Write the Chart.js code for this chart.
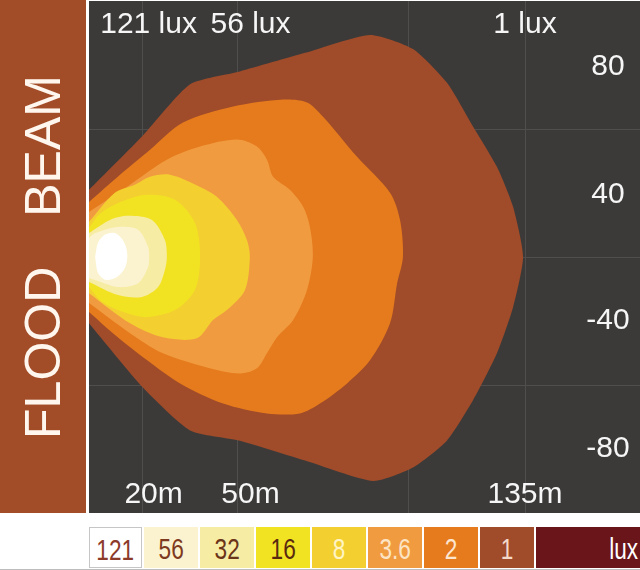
<!DOCTYPE html>
<html>
<head>
<meta charset="utf-8">
<script src="https://cdn.jsdelivr.net/npm/chart.js@4.4.1/dist/chart.umd.min.js"></script>
<style>
  body { margin: 0; width: 640px; height: 570px; background: #fff; position: relative; overflow: hidden;
         font-family: "Liberation Sans", Arial, sans-serif; }
  #band { position: absolute; left: 0; top: 0; width: 86px; height: 513px; background: #a24c28;
          display: flex; align-items: center; justify-content: center; }
  #band span { display: inline-block; transform: rotate(-90deg); white-space: nowrap; color: #fff6ee;
               font-size: 50px; word-spacing: 36px; }
  #plot { position: absolute; left: 89px; top: 1px; width: 551px; height: 512px; background: #3c3a39; }
  #legend { position: absolute; left: 89px; top: 527px; height: 41px; display: flex; }
  #legend div { height: 41px; margin-right: 2px; box-sizing: border-box; text-align: center;
                font-size: 29px; line-height: 44px; overflow: hidden; }
  #legend div span { display: inline-block; transform: scaleX(0.78); }
  #bottomline { position: absolute; left: 0; top: 569px; width: 640px; height: 1px; background: #bdbdbd; }
</style>
</head>
<body>
<div id="band"><span>FLOOD BEAM</span></div>
<div id="plot"><canvas id="beam" width="551" height="512"></canvas></div>
<div id="legend"></div>
<div id="bottomline"></div>
<script>
// isolux levels and colours
const levels = ['121', '56', '32', '16', '8', '3.6', '2', '1'];
const levelColors = ['#ffffff', '#fbf3cf', '#f7eca4', '#f2e322', '#f3cf30', '#f19b41', '#e57b1c', '#a04b29'];
const legendText = ['#8c3a2a', '#7e3a20', '#6b3418', '#5a2a10', '#fff4c4', '#fce4c4', '#fde6d0', '#f3d9c9'];

// contour outlines: [distance m, lateral offset m]
const lux121 = [[1.9,0],[2.8,4.5],[5,7],[8,7.5],[10.5,5.3],[11.8,1.5],[11.4,-2.8],[9,-6],[5.3,-7.2],[2.8,-5],[1.9,0]];
const lux56 = [[0,6],[1.9,7.5],[9,9.4],[15.2,8.5],[18.3,3.1],[18.6,0],[18.3,-3.1],[15.2,-8.2],[9,-9.4],[2.8,-7.5],[0,-6.6]];
const lux32 = [[0,7.5],[6.5,11.6],[12.1,12.9],[19.5,11.6],[23.5,5.3],[24.1,0],[23.5,-4.1],[21.4,-9.4],[16.4,-12.5],[9,-11.9],[0,-7.8]];
const lux16 = [[0,9.1],[3.4,13.5],[9,16.9],[17.3,19.4],[26.6,17.9],[32.8,10.7],[34.4,0],[32.8,-10.3],[26.6,-16.6],[17.3,-18.8],[9,-16.6],[3.4,-13.5],[0,-9.4]];
const lux8 = [[0,11],[8,20.1],[14.2,22.6],[18.9,25.1],[25.1,25.7],[34.4,21.9],[39.6,18.8],[45.8,11.6],[48.9,5.3],[49.8,0],[48.3,-10.3],[42.7,-16.6],[38.4,-19.7],[33.4,-25.4],[22.9,-25.1],[12.7,-20.7],[0,-11.3]];
const lux3_6 = [[0,14.1],[12.7,22.6],[24.1,30.4],[34.4,34.5],[45.8,36.7],[52,34.5],[55.1,30.4],[57,25.1],[62.2,21],[66.3,15.7],[68.4,9.4],[69.3,0],[67.5,-10.3],[63.2,-19.7],[58.2,-25.1],[55.1,-30.1],[52,-34.8],[46.7,-36.4],[36.5,-34.5],[22.9,-30.1],[12.7,-23.8],[0,-14.4]];
const lux2 = [[0,17.2],[9.6,25.7],[18.9,33.5],[29.1,42],[44.6,47],[60.1,49.2],[67.5,48.3],[72.4,43.9],[83,31.3],[93.2,20.1],[96.3,11.6],[97.2,0],[95.4,-8.2],[93.2,-20.7],[87,-32.3],[79.9,-39.5],[71.5,-45.8],[65.3,-48.9],[55.1,-48.9],[41.5,-45.8],[28.2,-39.5],[18,-32.3],[7.4,-23.8],[0,-17.2]];
const lux1 = [[0,21],[16.7,38],[31.3,54],[46.7,58],[66.9,63.8],[87,69.4],[100.3,65],[110.8,54.5],[118.9,40.8],[126.3,28.2],[131.3,15.7],[134.4,0],[131.3,-15.7],[126.3,-30.1],[118.9,-44.8],[110.8,-57.4],[100.3,-65.8],[88,-70],[66.9,-63.6],[46.7,-57.4],[31.3,-54.2],[16.7,-40.8],[0,-20.7]];
const outlines = [lux121, lux56, lux32, lux16, lux8, lux3_6, lux2, lux1];

// axis marks
const markDist = [20, 50, 135];
const markLux = [121, 56, 1];
const gridDist = [16.7, 46.1, 99, 135];
const gridSide = [-40, 0, 40];
const sideLabels = [80, 40, -40, -80];

const labelPlugin = {
  id: 'labels',
  afterDatasetsDraw(chart) {
    const { ctx, chartArea, scales } = chart;
    ctx.save();
    ctx.fillStyle = '#f6f6f6';
    ctx.font = '30px "Liberation Sans", Arial, sans-serif';
    ctx.textAlign = 'center';
    ctx.textBaseline = 'alphabetic';
    markDist.forEach((d, i) => {
      const x = scales.x.getPixelForValue(d);
      ctx.fillText(markLux[i] + ' lux', i === 0 ? x - 5 : x, chartArea.top + 32);
      ctx.fillText(d + 'm', x, chartArea.bottom - 10);
    });
    ctx.textBaseline = 'middle';
    sideLabels.forEach(v => {
      const y = scales.y.getPixelForValue(v - Math.sign(v) * 20);
      ctx.fillText(String(v), chartArea.right - 32, y + (v > 0 ? 2 : 0));
    });
    ctx.restore();
  }
};

new Chart(document.getElementById('beam'), {
  type: 'scatter',
  data: {
    datasets: outlines.map((pts, i) => ({
      label: levels[i] + ' lux',
      data: pts.map(p => ({ x: p[0], y: p[1] })),
      showLine: true,
      fill: 'shape',
      backgroundColor: levelColors[i],
      borderWidth: 0,
      pointRadius: 0,
      tension: i === outlines.length - 1 ? 0.2 : 0.3
    }))
  },
  options: {
    responsive: false,
    animation: false,
    layout: { padding: 0 },
    plugins: { legend: { display: false }, tooltip: { enabled: false } },
    scales: {
      x: {
        type: 'linear', min: 0, max: 170.6,
        border: { display: false },
        grid: { color: '#504e4d', drawTicks: false },
        ticks: { display: false },
        afterBuildTicks: s => { s.ticks = gridDist.map(v => ({ value: v })); },
        afterFit: s => { s.height = 0; }
      },
      y: {
        min: -80, max: 80,
        border: { display: false },
        grid: { color: '#504e4d', drawTicks: false },
        ticks: { display: false },
        afterBuildTicks: s => { s.ticks = gridSide.map(v => ({ value: v })); },
        afterFit: s => { s.width = 0; }
      }
    }
  },
  plugins: [labelPlugin]
});

// legend strip
const legend = document.getElementById('legend');
levels.forEach((lv, i) => {
  const box = document.createElement('div');
  box.style.width = (i === 0 ? 53 : 54) + 'px';
  box.style.background = levelColors[i];
  box.style.color = legendText[i];
  if (i === 0) box.style.border = '1px solid #c6c6c6';
  box.innerHTML = '<span>' + lv + '</span>';
  legend.appendChild(box);
});
const unit = document.createElement('div');
unit.style.width = '104px';
unit.style.marginRight = '0';
unit.style.background = '#6a1519';
unit.style.color = '#ffffff';
unit.style.textAlign = 'right';
unit.style.paddingRight = '2px';
unit.innerHTML = '<span style="transform-origin:right center">lux</span>';
legend.appendChild(unit);
</script>
</body>
</html>
